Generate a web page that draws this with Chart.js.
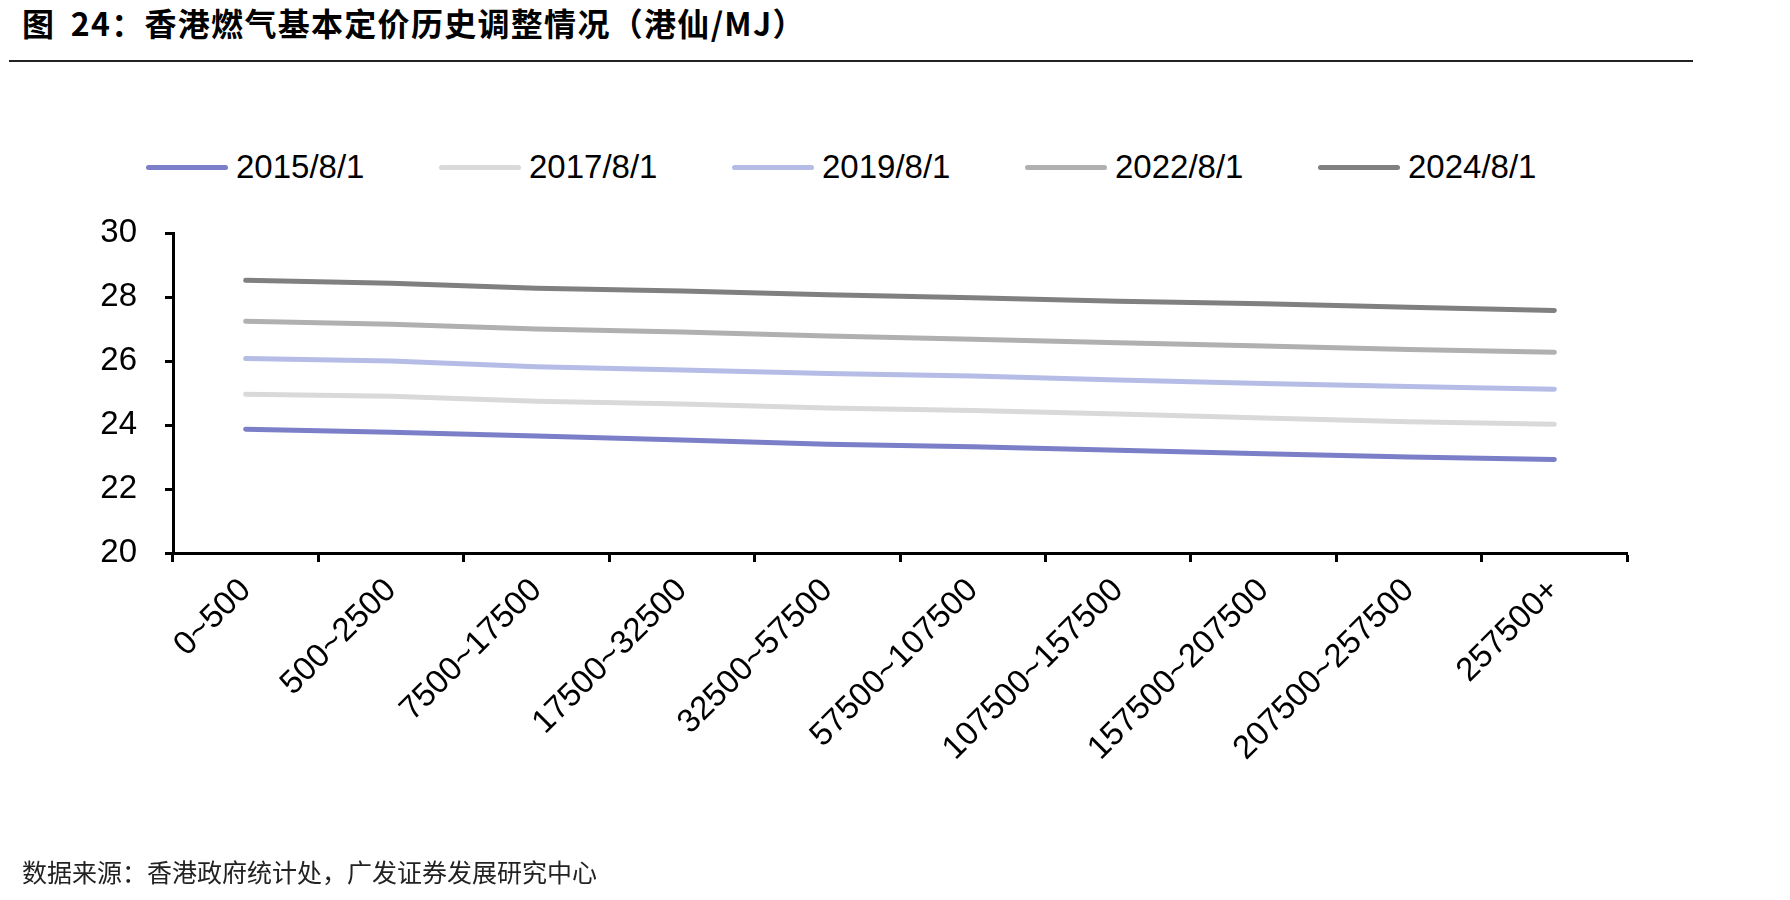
<!DOCTYPE html>
<html>
<head>
<meta charset="utf-8">
<script src="https://cdn.jsdelivr.net/npm/chart.js@4.4.1/dist/chart.umd.min.js"></script>
<style>
  html, body { margin: 0; padding: 0; background: #fff; }
  #wrap { position: relative; width: 1790px; height: 900px; overflow: hidden; }
  #title { position: absolute; left: 22px; top: 2px; font-family: "Noto Sans CJK SC", sans-serif; font-weight: bold; font-size: 32px; letter-spacing: 1.3px; word-spacing: 7px; color: #000; white-space: nowrap; line-height: 40px; }
  #rule { position: absolute; left: 9px; top: 60px; width: 1684px; height: 2px; background: #222; }
  #source { position: absolute; left: 22px; top: 855px; font-family: "Noto Sans CJK SC", sans-serif; font-size: 25px; color: #222; white-space: nowrap; line-height: 32px; }
  #legend { position: absolute; left: 0; top: 147px; width: 1790px; height: 40px; }
  .lg { position: absolute; top: 0; height: 40px; display: flex; align-items: center; white-space: nowrap; }
  .lg .sw { width: 82px; height: 5px; border-radius: 3px; margin-right: 8px; }
  .lg .tx { font-family: "Liberation Sans", Arial, sans-serif; font-size: 33px; color: #000; }
  canvas { position: absolute; left: 0; top: 0; }
</style>
</head>
<body>
<div id="wrap">
  <div id="title">图 24：香港燃气基本定价历史调整情况（港仙/MJ）</div>
  <div id="rule"></div>
  <div id="legend"></div>
  <canvas id="c" width="1790" height="900"></canvas>
  <div id="source">数据来源：香港政府统计处，广发证券发展研究中心</div>
</div>
<script>
const categories = ["0~500", "500~2500", "7500~17500", "17500~32500", "32500~57500", "57500~107500", "107500~157500", "157500~207500", "207500~257500", "257500+"];
const seriesNames = ["2015/8/1", "2017/8/1", "2019/8/1", "2022/8/1", "2024/8/1"];
const s2015 = [23.87, 23.77, 23.66, 23.53, 23.40, 23.32, 23.21, 23.10, 23.00, 22.92];
const s2017 = [24.96, 24.90, 24.74, 24.66, 24.53, 24.45, 24.34, 24.22, 24.10, 24.02];
const s2019 = [26.08, 26.00, 25.82, 25.72, 25.61, 25.53, 25.41, 25.30, 25.20, 25.12];
const s2022 = [27.24, 27.15, 27.00, 26.91, 26.78, 26.68, 26.57, 26.47, 26.36, 26.27];
const s2024 = [28.52, 28.43, 28.27, 28.19, 28.07, 27.98, 27.87, 27.79, 27.68, 27.58];
const yTicks = [20, 22, 24, 26, 28, 30];
const seriesColors = ["#7b7fc8", "#d9d9d9", "#b5bde6", "#b0b0b0", "#808080"];

const seriesData = [s2015, s2017, s2019, s2022, s2024];

// HTML legend built from the series arrays
const legendEl = document.getElementById('legend');
seriesNames.forEach((name, i) => {
  const item = document.createElement('div');
  item.className = 'lg';
  item.style.left = (146 + i * 293) + 'px';
  const sw = document.createElement('div');
  sw.className = 'sw';
  sw.style.background = seriesColors[i];
  const tx = document.createElement('span');
  tx.className = 'tx';
  tx.textContent = name;
  item.appendChild(sw); item.appendChild(tx);
  legendEl.appendChild(item);
});

const datasets = seriesNames.map((name, i) => ({
  label: name,
  data: seriesData[i],
  borderColor: seriesColors[i],
  backgroundColor: seriesColors[i],
  borderWidth: 5,
  borderCapStyle: 'round',
  borderJoinStyle: 'round',
  pointRadius: 0,
  pointHoverRadius: 0,
  tension: 0,
  fill: false
}));

new Chart(document.getElementById('c'), {
  type: 'line',
  data: { labels: categories, datasets: datasets },
  options: {
    responsive: false,
    animation: false,
    devicePixelRatio: 1,
    layout: { padding: { top: 233, right: 163, bottom: 0, left: 0 } },
    plugins: { legend: { display: false }, tooltip: { enabled: false } },
    scales: {
      x: {
        offset: true,
        grid: { offset: true, drawOnChartArea: false, drawTicks: true, tickLength: 9, tickWidth: 3, tickColor: '#000' },
        border: { display: true, color: '#000', width: 3 },
        ticks: {
          color: '#000',
          font: { family: 'Liberation Sans', size: 33 },
          minRotation: 45, maxRotation: 45,
          autoSkip: false,
          padding: 9
        },
        afterFit(scale) { scale.height = 900 - 553; }
      },
      y: {
        min: 20, max: 30,
        afterBuildTicks(scale) { scale.ticks = yTicks.map(v => ({ value: v })); },
        grid: { drawOnChartArea: false, drawTicks: true, tickLength: 8, tickWidth: 3, tickColor: '#000' },
        border: { display: true, color: '#000', width: 3 },
        ticks: {
          color: '#000',
          font: { family: 'Liberation Sans', size: 33 },
          padding: 28
        },
        afterFit(scale) { scale.width = 173; }
      }
    }
  }
});
</script>
</body>
</html>
